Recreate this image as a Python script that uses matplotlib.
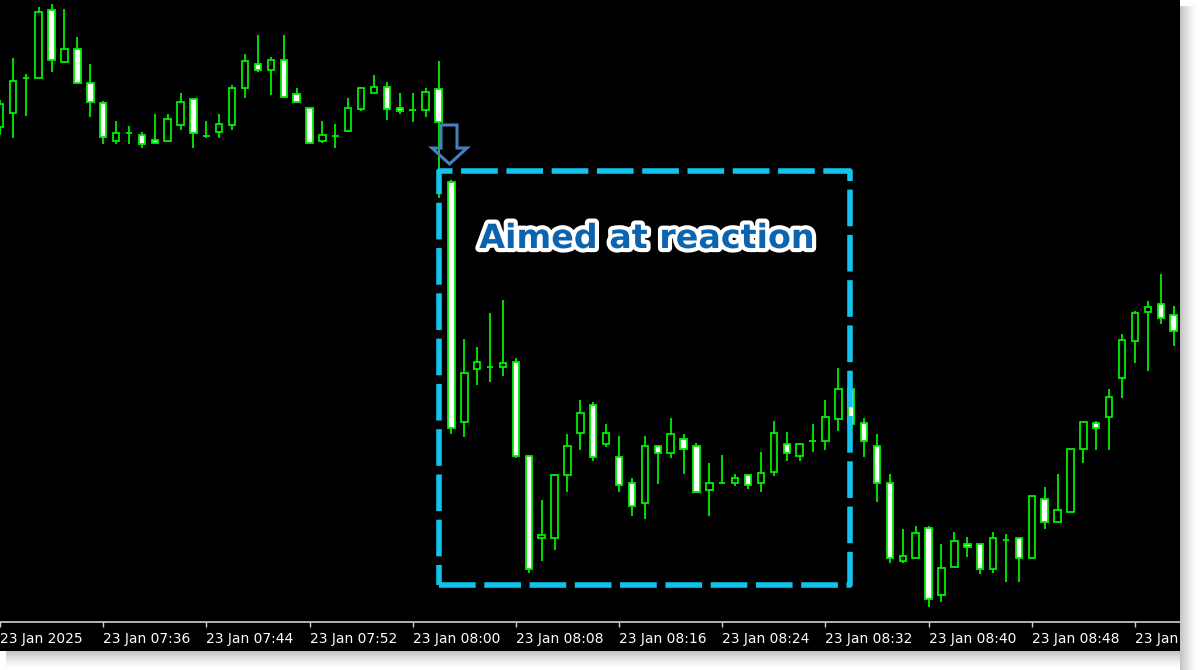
import matplotlib
matplotlib.use('Agg')
import matplotlib.pyplot as plt
from matplotlib.patches import Rectangle, Polygon
import matplotlib.patheffects as pe

# ---- data (one-minute candles, 07:28 .. 08:59) ----
opens = [573, 587, 622, 622, 690, 638, 651, 617, 597, 559,
         567, 565, 560, 559, 575, 601, 564, 568, 575, 612,
         636, 630, 640, 606, 592, 559, 564, 569, 591, 607,
         613, 592, 590, 590, 611, 518, 278, 331, 333, 333,
         338, 244, 162, 162, 225, 267, 295, 256, 243, 217,
         197, 254, 247, 261, 254, 210, 217, 217, 225, 217,
         228, 256, 244, 259, 259, 281, 311, 277, 254, 217,
         139, 142, 172, 105, 133, 156, 156, 131, 160, 162,
         142, 201, 178, 188, 251, 277, 283, 322, 359, 388,
         396, 385]
highs = [600, 642, 626, 693, 696, 691, 663, 636, 599, 579,
         574, 568, 586, 586, 607, 601, 579, 586, 615, 646,
         665, 643, 665, 612, 592, 579, 576, 602, 613, 625,
         618, 607, 607, 612, 639, 520, 361, 353, 387, 400,
         342, 245, 200, 226, 266, 300, 298, 276, 264, 222,
         264, 254, 282, 266, 257, 237, 245, 226, 225, 248,
         279, 268, 256, 276, 300, 332, 318, 282, 266, 226,
         171, 174, 174, 156, 168, 163, 156, 168, 166, 162,
         204, 213, 226, 251, 278, 279, 311, 366, 389, 399,
         426, 394]
lows = [565, 562, 584, 622, 628, 638, 617, 583, 556, 556,
        556, 552, 556, 559, 570, 552, 562, 562, 570, 602,
        628, 605, 603, 598, 557, 557, 552, 569, 589, 607,
        580, 586, 578, 583, 502, 266, 263, 315, 318, 324,
        242, 127, 139, 150, 208, 250, 239, 253, 208, 184,
        181, 216, 242, 226, 208, 184, 217, 214, 211, 208,
        224, 239, 239, 248, 250, 269, 272, 243, 198, 137,
        137, 142, 93, 98, 133, 143, 126, 127, 118, 118,
        142, 171, 178, 188, 237, 250, 250, 302, 337, 329,
        376, 354]
closes = [596, 619, 622, 688, 640, 651, 617, 598, 563, 567,
          567, 556, 557, 581, 598, 567, 564, 576, 612, 639,
          630, 640, 603, 598, 557, 565, 564, 592, 612, 613,
          591, 589, 590, 608, 578, 272, 327, 338, 333, 337,
          244, 131, 165, 225, 254, 287, 243, 267, 215, 194,
          254, 247, 266, 251, 208, 217, 217, 222, 215, 227,
          267, 247, 256, 259, 283, 311, 276, 259, 217, 142,
          144, 167, 101, 132, 159, 153, 131, 162, 160, 142,
          204, 178, 190, 251, 278, 272, 303, 360, 387, 393,
          382, 369]
tick_pos = [0, 8, 16, 24, 32, 40, 48, 56, 64, 72, 80, 88]
tick_labels = ['23 Jan 2025', '23 Jan 07:36', '23 Jan 07:44', '23 Jan 07:52',
               '23 Jan 08:00', '23 Jan 08:08', '23 Jan 08:16', '23 Jan 08:24',
               '23 Jan 08:32', '23 Jan 08:40', '23 Jan 08:48', '23 Jan 08:56']
box_title = 'Aimed at reaction'

# ---- figure ----
W, H = 1200, 670
fig = plt.figure(figsize=(W / 100, H / 100), dpi=100, facecolor='white')

# drop shadow (right and bottom)
n = 18
for k in range(n):
    a = 0.38 * (1 - k / n) ** 1.6
    fig.patches.append(Rectangle(((1180 + k) / W, 0), 1 / W, (H - 6) / H,
                                 transform=fig.transFigure, facecolor='#606060',
                                 edgecolor='none', alpha=a, zorder=-3))
    fig.patches.append(Rectangle((6 / W, (H - 651 - k - 1) / H), (1180 - 6) / W, 1 / H,
                                 transform=fig.transFigure, facecolor='#606060',
                                 edgecolor='none', alpha=a, zorder=-3))
# black chart panel
panel = Rectangle((0, (H - 651) / H), 1180 / W, 651 / H,
                  transform=fig.transFigure, facecolor='black',
                  edgecolor='none', zorder=-2)
fig.patches.append(panel)

ax = fig.add_axes([0, (H - 622) / H, 1180 / W, 622 / H], facecolor='black')
ax.set_xlim(3 / 12.93, 1183 / 12.93)
ax.set_ylim(78, 700)
for s in ['top', 'left', 'right']:
    ax.spines[s].set_visible(False)
ax.spines['bottom'].set_color('#d0d0d0')
ax.spines['bottom'].set_linewidth(1.2)
ax.set_yticks([])
ax.set_xticks(tick_pos)
ax.tick_params(axis='x', colors='#d0d0d0', length=3.8, width=1.0,
               direction='out', labelbottom=False)

green = '#00EE00'
bw = 0.5
for i, (o, h, l, c) in enumerate(zip(opens, highs, lows, closes)):
    ax.vlines(i, l, h, color=green, lw=1.3, zorder=2)
    ax.add_patch(Rectangle((i - bw / 2, min(o, c)), bw, abs(c - o),
                           facecolor='black' if c > o else 'white',
                           edgecolor=green, lw=1.3, zorder=3))

xt = ax.get_xaxis_transform()
for p, lab in zip(tick_pos, tick_labels):
    t = ax.text(p, -9.5 / 622, lab, transform=xt, ha='left', va='top',
                color='white', fontsize=10, clip_on=True)
    t.set_clip_path(panel)

# highlight box
box = Rectangle((34.0, 115.5), 31.9, 413.5, fill=False, edgecolor='#12C3EE',
                lw=4.0, linestyle=(0, (6.6, 1.55)), joinstyle='round',
                capstyle='butt', zorder=5)
ax.add_patch(box)

# title in box
fig.text(647 / W, 1 - 248 / H, box_title, ha='center', va='baseline',
         fontsize=24, fontweight='bold', color='#0C64AE', zorder=10,
         path_effects=[pe.withStroke(linewidth=6, foreground='white')])

# down arrow marker
arrow_px = [(441, 125), (457, 125), (457, 148), (467, 148), (449.5, 164),
            (432, 148), (441, 148)]
arrow = Polygon([(x / W, 1 - y / H) for x, y in arrow_px], closed=True,
                transform=fig.transFigure, facecolor='none',
                edgecolor='#4A7FBC', lw=2.2, joinstyle='miter', zorder=10)
fig.patches.append(arrow)

fig.savefig('out.png', dpi=100, facecolor='white')
